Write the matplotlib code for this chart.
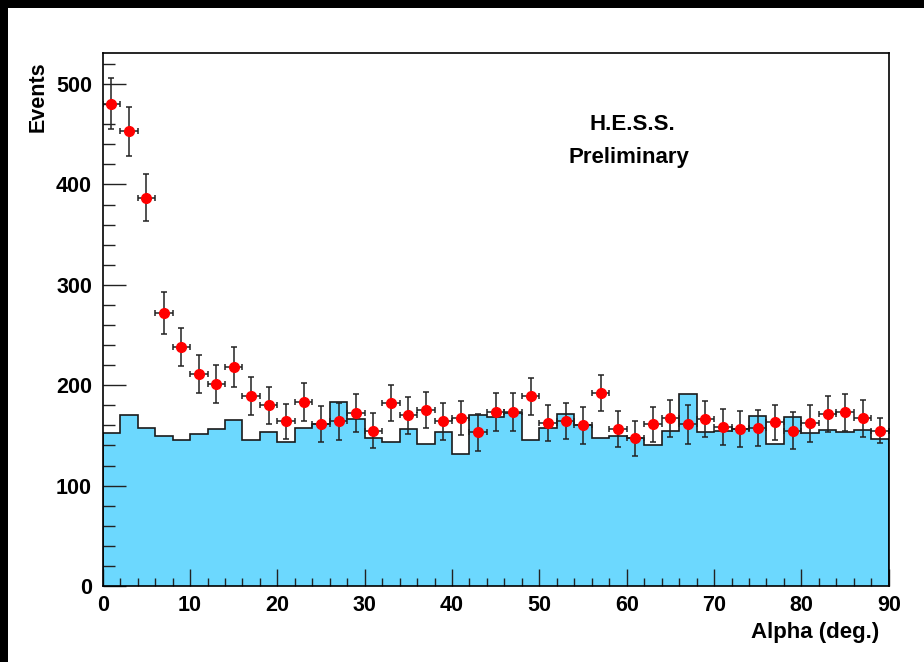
import numpy as np
import matplotlib
matplotlib.use('Agg')
import matplotlib.pyplot as plt
from matplotlib.patches import Rectangle
from matplotlib.ticker import MultipleLocator

plt.rcParams['font.family'] = ['Liberation Sans', 'DejaVu Sans']
plt.rcParams['font.weight'] = 'bold'

# alpha bins (deg.), 2 deg wide
edges = np.arange(0, 92, 2)
alpha = np.arange(1, 90, 2)

# ON events
on_counts = [480.6, 453, 387, 272, 238, 211, 201, 218, 189, 180,
             164, 183, 161, 164, 172.5, 154.5, 182, 170, 175, 164,
             167, 153, 173, 173, 189, 162, 164, 160, 192, 156.5,
             147, 161, 167, 161, 166, 158.5, 156.5, 157.5, 163, 154.5,
             162, 171.5, 173, 167, 154.5]
on_err = [25.5, 24.5, 23.5, 21, 19, 19, 19, 20, 19, 18.5,
          17.5, 19, 18, 18.5, 19, 17.5, 18, 18.5, 18, 18.3,
          17, 18.6, 19, 19, 18.6, 18, 18, 18.5, 18, 17.8,
          17.5, 17.3, 18.3, 19.4, 18, 18.3, 17.8, 18.3, 17.6, 18.5,
          18.3, 18, 18.3, 18.3, 12.5]

# OFF (background) histogram
off_counts = [152, 170, 157.5, 149.8, 145.8, 151.8, 156.5, 165, 145.8, 153,
              143.5, 157, 161, 183.4, 166.7, 147.8, 143.5, 156.2, 141.5, 153,
              131.9, 170, 168, 172.7, 145.8, 157.8, 171, 160, 147.8, 149.8,
              147.5, 140.2, 154, 191, 153.5, 154.5, 156.2, 169.7, 141.5, 168,
              152, 155.5, 153.5, 155.5, 146.2]

fig = plt.figure(figsize=(9.24, 6.62), dpi=100, facecolor='black')
fig.patches.append(Rectangle((8 / 924, 0), 1, (662 - 8) / 662, transform=fig.transFigure,
                             facecolor='white', edgecolor='none', zorder=-10))

ax = fig.add_axes([102.7 / 924, 76 / 662, 786 / 924, 533 / 662])
ax.stairs(off_counts, edges, fill=True, color='#6cd8fe', zorder=1)
ax.stairs(off_counts, edges, color='#1a1a1a', lw=1.2, zorder=2)
ax.errorbar(alpha, on_counts, xerr=1, yerr=on_err, fmt='o', color='red',
            markersize=7, markeredgecolor='red', ecolor='#222222',
            elinewidth=1.1, capsize=2.5, capthick=1.1, zorder=3)

ax.set_xlim(0, 90)
ax.set_ylim(0, 531)
ax.xaxis.set_major_locator(MultipleLocator(10))
ax.xaxis.set_minor_locator(MultipleLocator(2))
ax.yaxis.set_major_locator(MultipleLocator(100))
ax.yaxis.set_minor_locator(MultipleLocator(20))
ax.tick_params(axis='both', which='both', direction='in', width=1.0, color='#222222',
               labelsize=15.5)
ax.tick_params(axis='x', which='major', length=12.2, pad=6.5)
ax.tick_params(axis='x', which='minor', length=5.8)
ax.tick_params(axis='y', which='major', length=16.6, pad=7.7)
ax.tick_params(axis='y', which='minor', length=8.6)
for lab in ax.get_xticklabels() + ax.get_yticklabels():
    lab.set_fontweight('bold')
for sp in ax.spines.values():
    sp.set_linewidth(1.2)
    sp.set_zorder(5)

ax.text(60.7, 454.5, 'H.E.S.S.', ha='center', va='baseline', fontsize=16, fontweight='bold')
ax.text(60.2, 421.6, 'Preliminary', ha='center', va='baseline', fontsize=16, fontweight='bold')

fig.text(38 / 924, (662 - 61) / 662, 'Events', rotation=90, ha='center', va='top',
         fontsize=15.5, fontweight='bold')
fig.text(879 / 924, (662 - 638) / 662, 'Alpha (deg.)', ha='right', va='baseline',
         fontsize=16, fontweight='bold')

fig.savefig('out.png', dpi=100, facecolor=fig.get_facecolor())
